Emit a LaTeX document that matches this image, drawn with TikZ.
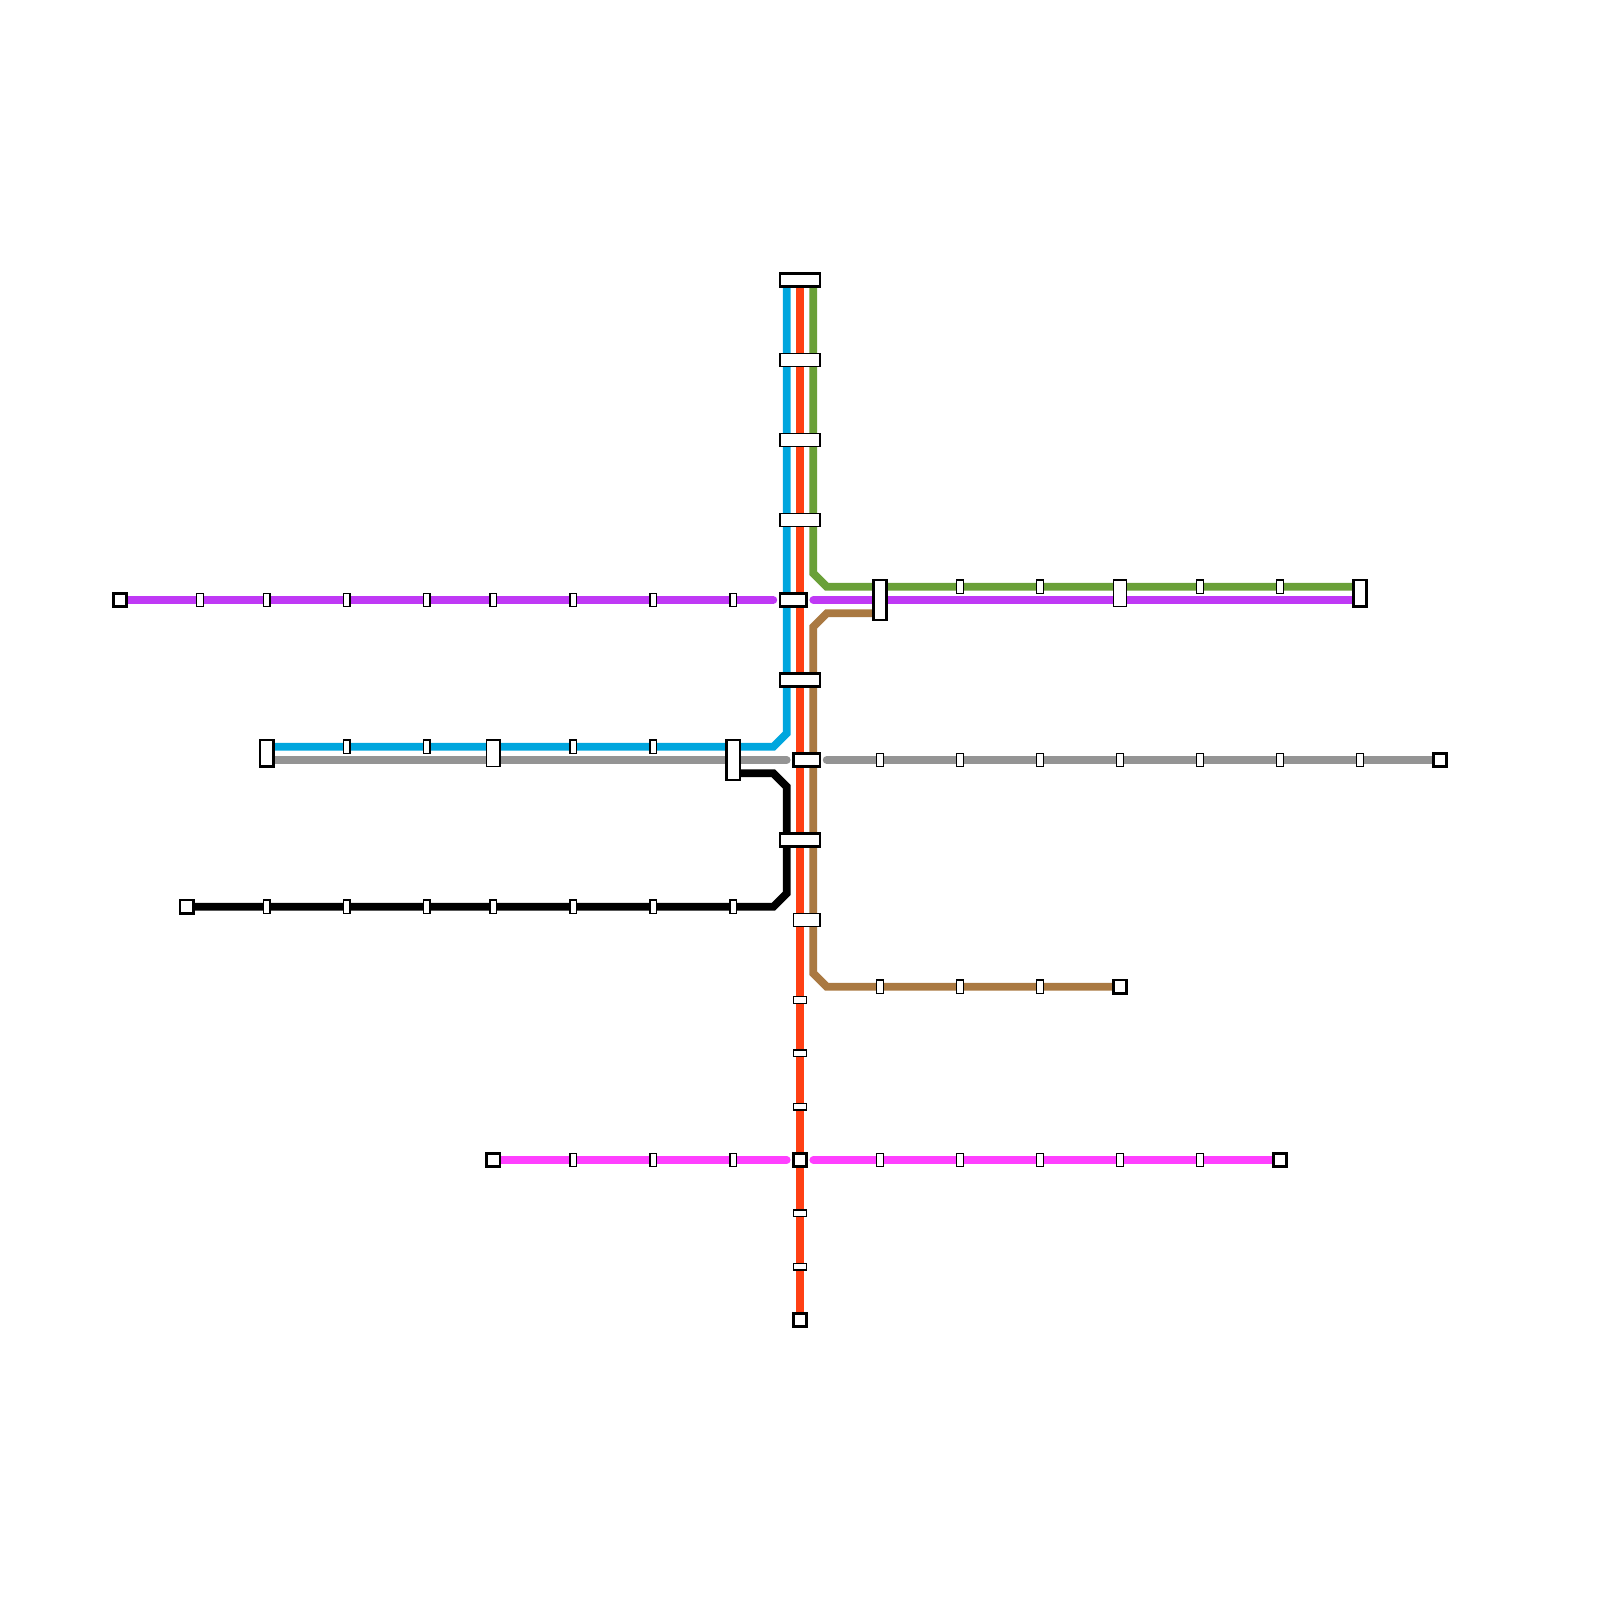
\documentclass[tikz,border=0pt]{standalone}
\usetikzlibrary{backgrounds}
\definecolor{cblue}{RGB}{0,166,222}
\definecolor{cred}{RGB}{255,64,20}
\definecolor{cgreen}{RGB}{106,160,56}
\definecolor{cpurple}{RGB}{191,57,245}
\definecolor{cgray}{RGB}{148,148,148}
\definecolor{cbrown}{RGB}{170,121,66}
\definecolor{cmag}{RGB}{255,64,255}
\tikzset{
  metro/.style={line width=3.9pt,line cap=round,line join=miter},
  thinst/.style 2 args={draw=black,fill=white,line width=0.7pt,inner sep=0pt,outer sep=0pt,minimum width=#1*0.5pt,minimum height=#2*0.5pt},
  thickst/.style 2 args={draw=black,fill=white,line width=1.45pt,inner sep=0pt,outer sep=0pt,minimum width=#1*0.5pt,minimum height=#2*0.5pt},
  tick/.style={thinst={6.667}{13.333}},
  htick/.style={thinst={13.333}{6.667}},
  term/.style={thickst={13.333}{13.333}}
}
\begin{document}
\begin{tikzpicture}[x=0.5pt,y=-0.5pt]
\useasboundingbox (0,0) rectangle (1600,1600);
% interchanges, spine
\node[thickst={40}{13.333}] (s280) at (800,280) {};
\node[thinst={40}{13.333}] (s360) at (800,360) {};
\node[thinst={40}{13.333}] (s440) at (800,440) {};
\node[thinst={40}{13.333}] (s520) at (800,520) {};
\node[thickst={26.667}{13.333}] (s600) at (793.33,600) {};
\node[thickst={40}{13.333}] (s680) at (800,680) {};
\node[thickst={26.667}{13.333}] (s760) at (806.67,760) {};
\node[thickst={40}{13.333}] (s840) at (800,840) {};
\node[thinst={26.667}{13.333}] (s920) at (806.67,920) {};
\node[htick] (r1000) at (800,1000) {};
\node[htick] (r1053) at (800,1053.33) {};
\node[htick] (r1107) at (800,1106.67) {};
\node[term] (s1160) at (800,1160) {};
\node[htick] (r1213) at (800,1213.33) {};
\node[htick] (r1267) at (800,1266.67) {};
\node[term] (tred) at (800,1320) {};
% other interchanges
\node[thickst={13.333}{40}] (x880) at (880,600) {};
\node[thinst={13.333}{26.667}] (x1120) at (1120,593.33) {};
\node[thickst={13.333}{26.667}] (x1360) at (1360,593.33) {};
\node[thickst={13.333}{26.667}] (x267) at (266.67,753.33) {};
\node[thinst={13.333}{26.667}] (x493) at (493.33,753.33) {};
\node[thickst={13.333}{40}] (x733) at (733.33,760) {};
% terminals
\node[term] (tpurple) at (120,600) {};
\node[term] (tblack) at (186.67,906.67) {};
\node[term] (tgray) at (1440,760) {};
\node[term] (tbrown) at (1120,986.67) {};
\node[term] (tmagL) at (493.33,1160) {};
\node[term] (tmagR) at (1280,1160) {};
% plain stops
\foreach \x/\n in {200/a,266.67/b,346.67/c,426.67/d,493.33/e,573.33/f,653.33/g,733.33/h}
  \node[tick] (pu\n) at (\x,600) {};
\foreach \x/\n in {960/a,1040/b,1200/c,1280/d}
  \node[tick] (gr\n) at (\x,586.67) {};
\foreach \x/\n in {346.67/a,426.67/b,573.33/c,653.33/d}
  \node[tick] (bl\n) at (\x,746.67) {};
\foreach \x/\n in {880/a,960/b,1040/c,1120/d,1200/e,1280/f,1360/g}
  \node[tick] (gy\n) at (\x,760) {};
\foreach \x/\n in {266.67/a,346.67/b,426.67/c,493.33/d,573.33/e,653.33/f,733.33/g}
  \node[tick] (bk\n) at (\x,906.67) {};
\foreach \x/\n in {880/a,960/b,1040/c}
  \node[tick] (br\n) at (\x,986.67) {};
\foreach \x/\n in {573.33/a,653.33/b,733.33/c,880/d,960/e,1040/f,1120/g,1200/h}
  \node[tick] (ma\n) at (\x,1160) {};
% way points
\coordinate (blTop) at (786.67,280);
\coordinate (blC1) at (786.67,733.33);
\coordinate (blC2) at (773.33,746.67);
\coordinate (blEnd) at (266.67,746.67);
\coordinate (grTop) at (813.33,280);
\coordinate (grC1) at (813.33,573.33);
\coordinate (grC2) at (826.67,586.67);
\coordinate (grEnd) at (1360,586.67);
\coordinate (puL) at (773.33,600);
\coordinate (puR) at (813.33,600);
\coordinate (puEnd) at (1360,600);
\coordinate (gyL0) at (266.67,760);
\coordinate (gyL) at (786.67,760);
\coordinate (gyR) at (826.67,760);
\coordinate (bkS) at (733.33,773.33);
\coordinate (bkC1) at (773.33,773.33);
\coordinate (bkC2) at (786.67,786.67);
\coordinate (bkC3) at (786.67,893.33);
\coordinate (bkC4) at (773.33,906.67);
\coordinate (brS) at (880,613.33);
\coordinate (brC1) at (826.67,613.33);
\coordinate (brC2) at (813.33,626.67);
\coordinate (brC3) at (813.33,973.33);
\coordinate (brC4) at (826.67,986.67);
\coordinate (maL) at (786.67,1160);
\coordinate (maR) at (813.33,1160);
\begin{pgfonlayer}{background}
\draw[metro,cred] (s280.center) -- (tred.center);
\draw[metro,cblue] (blTop) -- (blC1) -- (blC2) -- (blEnd);
\draw[metro,cgreen] (grTop) -- (grC1) -- (grC2) -- (grEnd);
\draw[metro,cbrown] (brS) -- (brC1) -- (brC2) -- (brC3) -- (brC4) -- (tbrown.center);
\draw[metro,black] (bkS) -- (bkC1) -- (bkC2) -- (bkC3) -- (bkC4) -- (tblack.center);
\draw[metro,cpurple] (tpurple.center) -- (puL);
\draw[metro,cpurple] (puR) -- (puEnd);
\draw[metro,cgray] (gyL0) -- (gyL);
\draw[metro,cgray] (gyR) -- (tgray.center);
\draw[metro,cmag] (tmagL.center) -- (maL);
\draw[metro,cmag] (maR) -- (tmagR.center);
\end{pgfonlayer}
\end{tikzpicture}
\end{document}
